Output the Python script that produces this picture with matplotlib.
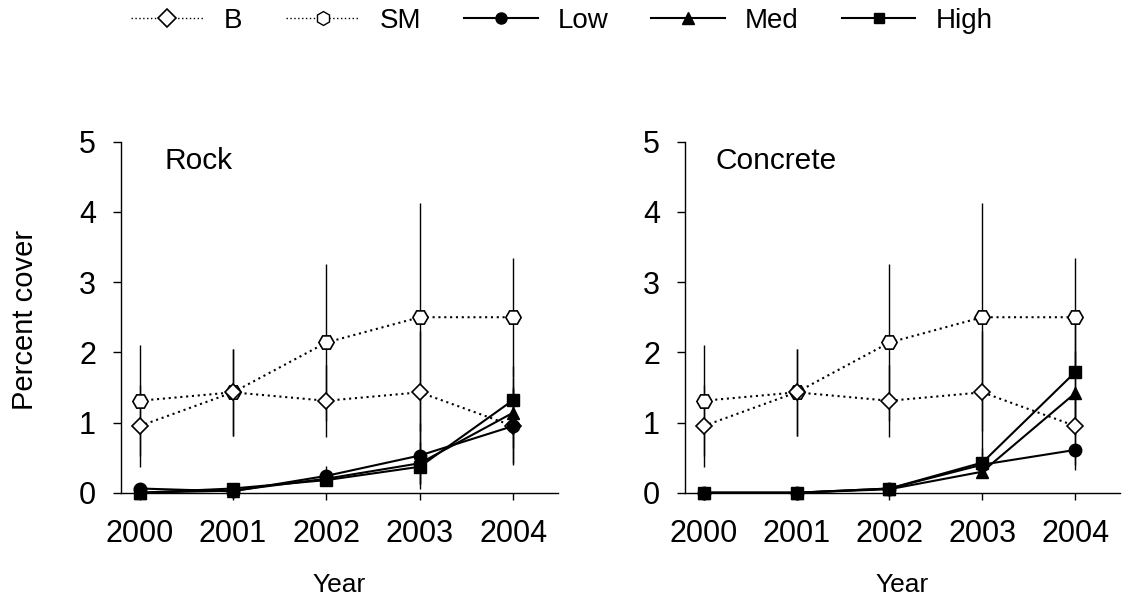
import matplotlib
matplotlib.use("Agg")
import matplotlib.pyplot as plt
from matplotlib.lines import Line2D

plt.rcParams['font.family'] = ['Liberation Sans', 'DejaVu Sans']

## data
years = [2000, 2001, 2002, 2003, 2004]

# controls, same in both panels
b_mean = [0.95, 1.43, 1.31, 1.43, 0.95]
b_err = [0.58, 0.62, 0.51, 0.88, 0.55]
sm_mean = [1.31, 1.43, 2.14, 2.50, 2.50]
sm_err = [0.79, 0.62, 1.12, 1.62, 0.85]

# Rock panel
rock_low = [0.06, 0.02, 0.24, 0.53, 0.95]
rock_low_err = [0.03, 0.02, 0.14, 0.47, 0.53]
rock_med = [0.00, 0.03, 0.20, 0.42, 1.14]
rock_med_err = [0.00, 0.02, 0.10, 0.30, 0.50]
rock_high = [0.00, 0.06, 0.18, 0.37, 1.32]
rock_high_err = [0.00, 0.03, 0.08, 0.25, 0.48]

# Concrete panel
conc_low = [0.00, 0.00, 0.06, 0.40, 0.61]
conc_low_err = [0.00, 0.00, 0.03, 0.17, 0.29]
conc_med = [0.00, 0.00, 0.05, 0.30, 1.42]
conc_med_err = [0.00, 0.00, 0.02, 0.07, 0.60]
conc_high = [0.00, 0.00, 0.06, 0.43, 1.72]
conc_high_err = [0.00, 0.00, 0.03, 0.20, 0.70]

panels = ["Rock", "Concrete"]
labels = ["B", "SM", "Low", "Med", "High"]

DOT = (0, (1, 1.8))  # dotted pattern of the controls


def draw_panel(ax, title, low, low_err, med, med_err, high, high_err):
    # error bars first, thin black vertical lines, no caps
    for m, e in [(sm_mean, sm_err), (b_mean, b_err), (low, low_err), (med, med_err), (high, high_err)]:
        ax.errorbar(years, m, yerr=e, fmt='none', ecolor='black', elinewidth=1.0,
                    capsize=0, clip_on=False, zorder=2)

    # dotted controls, open markers
    ax.plot(years, sm_mean, linestyle=DOT, color='black', lw=1.5, marker='H', markersize=11,
            markerfacecolor='white', markeredgecolor='black', markeredgewidth=1.2, clip_on=False, zorder=3)
    ax.plot(years, b_mean, linestyle=DOT, color='black', lw=1.5, marker='D', markersize=8.5,
            markerfacecolor='white', markeredgecolor='black', markeredgewidth=1.2, clip_on=False, zorder=3)

    # solid treatments, filled markers
    ax.plot(years, low, '-', color='black', lw=1.5, marker='o', markersize=9, clip_on=False, zorder=4)
    ax.plot(years, med, '-', color='black', lw=1.5, marker='^', markersize=9, clip_on=False, zorder=4)
    ax.plot(years, high, '-', color='black', lw=1.5, marker='s', markersize=8, clip_on=False, zorder=4)

    ax.set_xlim(1999.80, 2004.48)
    ax.set_ylim(0, 5)
    ax.set_xticks(years)
    ax.set_yticks([0, 1, 2, 3, 4, 5])
    ax.spines['top'].set_visible(False)
    ax.spines['right'].set_visible(False)
    ax.spines['left'].set_linewidth(1.0)
    ax.spines['bottom'].set_linewidth(1.0)
    ax.tick_params(axis='y', direction='out', length=6, width=1, labelsize=22, pad=12)
    ax.tick_params(axis='x', direction='out', length=5, width=1, labelsize=22, pad=14)
    ax.text(0.10, 0.922, title, transform=ax.transAxes, fontsize=21.5, va='baseline', ha='left')


fig = plt.figure(figsize=(11.23, 6), dpi=100)
ax1 = fig.add_axes([0.1077, 0.1788, 0.3892, 0.585])
ax2 = fig.add_axes([0.610, 0.1788, 0.3873, 0.585])

draw_panel(ax1, panels[0], rock_low, rock_low_err, rock_med, rock_med_err, rock_high, rock_high_err)
draw_panel(ax2, panels[1], conc_low, conc_low_err, conc_med, conc_med_err, conc_high, conc_high_err)
ax2.texts[0].set_x(0.069)

fig.text(0.022, (600 - 320) / 600, "Percent cover", rotation=90, fontsize=21, ha='center', va='center')
fig.text((121 + 558) / 2 / 1123, 0.0133, "Year", fontsize=19, ha='center', va='baseline')
fig.text((685 + 1120) / 2 / 1123, 0.0133, "Year", fontsize=19, ha='center', va='baseline')

# legend with its own handles (thinner lines)
handles = [
    Line2D([], [], linestyle=DOT, color='black', lw=1.0, marker='D', markersize=9,
           markerfacecolor='white', markeredgecolor='black', markeredgewidth=1.2),
    Line2D([], [], linestyle=DOT, color='black', lw=1.0, marker='h', markersize=10,
           markerfacecolor='white', markeredgecolor='black', markeredgewidth=1.0),
    Line2D([], [], linestyle='-', color='black', lw=1.5, marker='o', markersize=8),
    Line2D([], [], linestyle='-', color='black', lw=1.5, marker='^', markersize=8),
    Line2D([], [], linestyle='-', color='black', lw=1.5, marker='s', markersize=7),
]
fig.legend(handles, labels, loc='center', bbox_to_anchor=(0.5, (600 - 21) / 600), ncol=5,
           frameon=False, fontsize=20, handlelength=2.65, handletextpad=0.72, columnspacing=1.55,
           borderpad=0, borderaxespad=0)

fig.savefig("out.png", dpi=100)
